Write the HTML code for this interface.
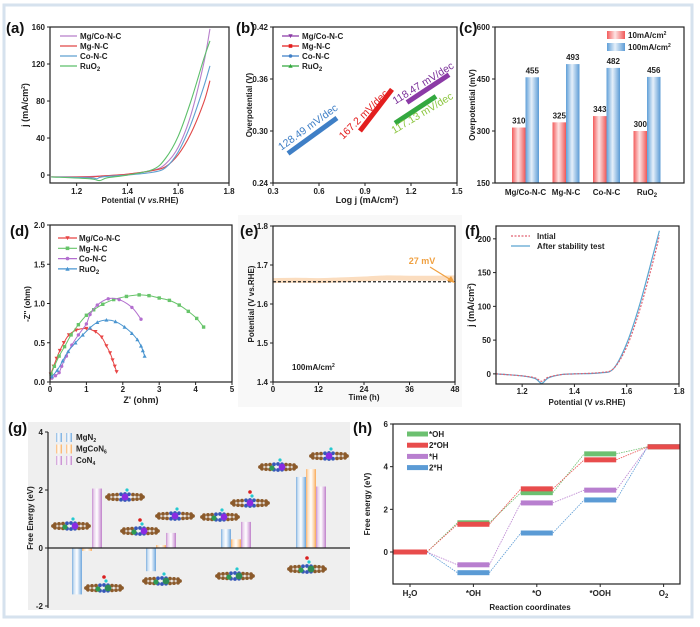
<!DOCTYPE html>
<html><head><meta charset="utf-8"><style>
html,body{margin:0;padding:0;background:#fff}
svg{display:block;font-family:"Liberation Sans",sans-serif;font-weight:bold}
</style></head><body>
<svg id="fig" width="700" height="627" viewBox="0 0 700 627">
<defs>
<linearGradient id="gRed" x1="0" x2="1"><stop offset="0" stop-color="#f35b5b"/><stop offset="0.45" stop-color="#fde4e4"/><stop offset="1" stop-color="#f05858"/></linearGradient>
<linearGradient id="gBlue" x1="0" x2="1"><stop offset="0" stop-color="#5f9fd8"/><stop offset="0.45" stop-color="#e6f0fa"/><stop offset="1" stop-color="#5b9bd5"/></linearGradient>
<linearGradient id="gB2" x1="0" x2="1"><stop offset="0" stop-color="#7fb0df"/><stop offset="0.2" stop-color="#cfe2f4"/><stop offset="0.5" stop-color="#fff"/><stop offset="0.8" stop-color="#a9cbec"/><stop offset="1" stop-color="#6fa6dc"/></linearGradient>
<linearGradient id="gO2" x1="0" x2="1"><stop offset="0" stop-color="#fbb36a"/><stop offset="0.2" stop-color="#fde2c4"/><stop offset="0.5" stop-color="#fff"/><stop offset="0.8" stop-color="#fcd3a6"/><stop offset="1" stop-color="#f9a856"/></linearGradient>
<linearGradient id="gP2" x1="0" x2="1"><stop offset="0" stop-color="#c88fd0"/><stop offset="0.2" stop-color="#ead4ee"/><stop offset="0.5" stop-color="#fff"/><stop offset="0.8" stop-color="#dcb6e2"/><stop offset="1" stop-color="#bf80c9"/></linearGradient>
</defs>
<rect x="4" y="5" width="688" height="612" fill="none" stroke="#d6e2ee" stroke-width="3"/>
<rect x="238" y="215" width="224" height="192" fill="#f8f8f8"/>
<rect x="28" y="422" width="322" height="188" fill="#efefef"/>
</svg>
<script>
// ---------- data ----------
// (a) LSV
const aX_mgco=[1.1,1.2,1.3,1.4,1.5,1.55,1.6,1.65,1.7,1.725];
const aY_mgco=[-2,-2,-1,1,5,12,30,65,120,158];
const aX_mg=[1.1,1.25,1.3,1.4,1.5,1.55,1.6,1.65,1.7,1.725];
const aY_mg=[-2,-2,-1,1,5,9,22,45,78,102];
const aX_co=[1.1,1.25,1.28,1.3,1.4,1.5,1.55,1.6,1.65,1.7,1.725];
const aY_co=[-2,-3,-4,-2,0,3,8,25,55,95,118];
const aX_ru=[1.1,1.25,1.29,1.32,1.4,1.5,1.55,1.6,1.65,1.7,1.725];
const aY_ru=[-2,-4,-6,-3,0,6,18,42,80,125,145];
const aXTicks=[1.2,1.4,1.6,1.8];
const aYTicks=[0,40,80,120,160];
// (b) Tafel
const bCo=[[0.398,0.274],[0.717,0.315]];
const bMg=[[0.867,0.300],[1.076,0.348]];
const bMgCo=[[1.174,0.333],[1.448,0.365]];
const bRu=[[1.096,0.309],[1.363,0.340]];
const bSlopes=["128.49 mV/dec","167.2 mV/dec","118.47 mV/dec","117.13 mV/dec"];
const bXTicks=[0.3,0.6,0.9,1.2,1.5];
const bYTicks=[0.24,0.30,0.36,0.42];
// (c) overpotential bars
const cCats=["Mg/Co-N-C","Mg-N-C","Co-N-C","RuO2"];
const c10=[310,325,343,300];
const c100=[455,493,482,456];
const cYTicks=[150,300,450,600];
// (d) Nyquist
const dMgCoX=[0.02,0.1,0.18,0.27,0.38,0.52,0.72,1.0,1.25,1.42,1.55,1.65,1.72,1.78,1.83];
const dMgCoY=[0.1,0.2,0.3,0.4,0.5,0.6,0.66,0.68,0.64,0.57,0.46,0.37,0.28,0.2,0.13];
const dMgX=[0.03,0.12,0.25,0.4,0.58,0.78,1.0,1.2,1.45,1.75,2.1,2.45,2.72,3.0,3.28,3.55,3.8,4.03,4.22];
const dMgY=[0.1,0.2,0.33,0.45,0.6,0.73,0.85,0.92,0.99,1.05,1.09,1.11,1.10,1.07,1.04,0.98,0.9,0.81,0.70];
const dCoX=[0.05,0.15,0.25,0.32,0.45,0.6,0.78,1.0,1.1,1.3,1.6,1.9,2.25,2.5];
const dCoY=[0.05,0.08,0.12,0.2,0.33,0.47,0.6,0.74,0.86,0.98,1.06,1.05,0.95,0.8];
const dRuX=[0.05,0.2,0.35,0.5,0.7,0.9,1.1,1.3,1.55,1.8,2.05,2.25,2.4,2.5,2.55,2.6];
const dRuY=[0.07,0.15,0.27,0.39,0.5,0.6,0.69,0.76,0.79,0.77,0.7,0.62,0.54,0.46,0.4,0.33];
const dXTicks=[0,1,2,3,4,5];
const dYTicks=[0,0.5,1.0,1.5,2.0];
// (e) stability
const eT=[0,6,12,18,24,30,36,42,48];
const eV=[1.66,1.661,1.66,1.662,1.664,1.667,1.666,1.666,1.667];
const eRef=1.657;
const eXTicks=[0,12,24,36,48];
const eYTicks=[1.4,1.5,1.6,1.7,1.8];
// (f) LSV before/after
const fX=[1.1,1.2,1.25,1.275,1.3,1.35,1.4,1.5,1.55,1.6,1.65,1.7,1.725];
const fInit=[0,-3,-6,-11,-5,-1,0,2,8,40,95,165,205];
const fAfter=[0,-3,-7,-14,-6,-1,0,1.5,8,45,103,175,212];
const fXTicks=[1.2,1.4,1.6,1.8];
const fYTicks=[0,50,100,150,200];
// (g) free energy bars
const gMgN2=[-1.6,-0.8,0.65,2.45];
const gMgCoN6=[-0.1,0.1,0.3,2.72];
const gCoN4=[2.05,0.52,0.9,2.12];
const gYTicks=[-2,0,2,4];
// (h) free-energy diagram
const hCats=["H2O","*OH","*O","*OOH","O2"];
const hOH=[0,1.37,2.78,4.6,4.93];
const h2OH=[0,1.3,2.96,4.32,4.93];
const hH=[0,-0.6,2.3,2.9,4.93];
const h2H=[0,-0.97,0.89,2.44,4.93];
const hYTicks=[0,2,4,6];

// ---------- helpers ----------
const svg=document.getElementById('fig');
const NS='http://www.w3.org/2000/svg';
function mk(tag,attrs,name,parent){
  const el=document.createElementNS(NS,tag);
  for(const k in attrs) el.setAttribute(k,attrs[k]);
  
  
  (parent||svg).appendChild(el);
  return el;
}
function txt(x,y,s,name,o){
  o=o||{};
  const el=mk('text',{x:x,y:y,'font-size':o.size||8,fill:o.fill||'#222','text-anchor':o.anchor||'middle','font-weight':o.weight||'bold'},name);
  if(o.rot!==undefined) el.setAttribute('transform','rotate('+o.rot+' '+x+' '+y+')');
  el.innerHTML=s;
  return el;
}
function lin(d0,d1,r0,r1){return v=>r0+(v-d0)*(r1-r0)/(d1-d0);}
function smooth(p){
  let d='M'+p[0][0]+','+p[0][1];
  for(let i=0;i<p.length-1;i++){
    const p0=p[i-1]||p[i],p1=p[i],p2=p[i+1],p3=p[i+2]||p2;
    const c1=[p1[0]+(p2[0]-p0[0])/6,p1[1]+(p2[1]-p0[1])/6];
    const c2=[p2[0]-(p3[0]-p1[0])/6,p2[1]-(p3[1]-p1[1])/6];
    d+=' C'+c1[0]+','+c1[1]+' '+c2[0]+','+c2[1]+' '+p2[0]+','+p2[1];
  }
  return d;
}
function frame(x0,y0,x1,y1,name){
  mk('rect',{x:x0,y:y0,width:x1-x0,height:y1-y0,fill:'none',stroke:'#222','stroke-width':1.2},name);
}
function xticks(ticks,sx,y,name,fmt,ly){
  ticks.forEach(t=>{
    mk('line',{x1:sx(t),x2:sx(t),y1:y,y2:y+3,stroke:'#222','stroke-width':1},name+'-tick');
    txt(sx(t),ly||y+11,fmt?fmt(t):t,name+'-label');
  });
}
function yticks(ticks,sy,x,name,fmt){
  ticks.forEach(t=>{
    mk('line',{x1:x-3,x2:x,y1:sy(t),y2:sy(t),stroke:'#222','stroke-width':1},name+'-tick');
    txt(x-5,sy(t)+3,fmt?fmt(t):t,name+'-label',{anchor:'end'});
  });
}
function panelLabel(x,y,s,name){txt(x,y,s,name,{size:15,anchor:'start',fill:'#111'});}
function marker(shape,x,y,c,r,name){
  r=r||2;
  if(shape==='sq') mk('rect',{x:x-r,y:y-r,width:2*r,height:2*r,fill:c},name);
  else if(shape==='ci') mk('circle',{cx:x,cy:y,r:r,fill:c},name);
  else if(shape==='dn') mk('polygon',{points:(x-r*1.2)+','+(y-r)+' '+(x+r*1.2)+','+(y-r)+' '+x+','+(y+r*1.2),fill:c},name);
  else mk('polygon',{points:(x-r*1.2)+','+(y+r)+' '+(x+r*1.2)+','+(y+r)+' '+x+','+(y-r*1.2),fill:c},name);
}
const SUB=s=>s.replace(/(\D)(\d)$/,'$1<tspan font-size="6" dy="2">$2</tspan>');

// ---------- (a) ----------
(function(){
  const sx=lin(1.095,1.8,50,229), sy=lin(-8.6,160,183,27);
  panelLabel(6,33,'(a)','panel-a-label');
  const series=[[aX_mgco,aY_mgco,'#b77fcb','mgco'],[aX_mg,aY_mg,'#e04848','mg'],[aX_co,aY_co,'#5fa0d0','co'],[aX_ru,aY_ru,'#5cbf6a','ru']];
  series.forEach(s=>{
    const pts=s[0].map((v,i)=>[sx(v),sy(s[1][i])]);
    mk('path',{d:smooth(pts),fill:'none',stroke:s[2],'stroke-width':1.1},'lsv-curve-'+s[3]);
  });
  frame(50,27,229,183,'panel-a-frame');
  xticks(aXTicks,sx,183,'a-x-tick');
  yticks(aYTicks,sy,50,'a-y-tick');
  txt(140,203,'Potential (V <tspan font-style="italic">vs.</tspan>RHE)','a-x-axis-title');
  txt(28,105,'j (mA/cm<tspan font-size="5" dy="-3">2</tspan><tspan dy="3">)</tspan>','a-y-axis-title',{rot:-90,size:9});
  const names=['Mg/Co-N-C','Mg-N-C','Co-N-C','RuO2'];
  names.forEach((n,i)=>{
    const y=36+10*i;
    mk('line',{x1:60,x2:77,y1:y,y2:y,stroke:series[i][2],'stroke-width':1.2},'a-legend-line');
    txt(80,y+3,SUB(n),'a-legend-entry',{anchor:'start'});
  });
})();

// ---------- (b) ----------
(function(){
  const sx=lin(0.3,1.5,273,457), sy=lin(0.24,0.42,183,27);
  panelLabel(236,33,'(b)','panel-b-label');
  const lines=[[bCo,'#3f7fc6','co'],[bMg,'#e31e1e','mg'],[bMgCo,'#8b3aa6','mgco'],[bRu,'#33a83f','ru']];
  lines.forEach(l=>{
    mk('line',{x1:sx(l[0][0][0]),y1:sy(l[0][0][1]),x2:sx(l[0][1][0]),y2:sy(l[0][1][1]),stroke:l[1],'stroke-width':5},'tafel-line-'+l[2]);
  });
  txt(310,130,bSlopes[0],'tafel-slope-co',{rot:-36,size:10.5,fill:'#3f7fc6',weight:'normal'});
  txt(366,117,bSlopes[1],'tafel-slope-mg',{rot:-45,size:10.5,fill:'#e31e1e',weight:'normal'});
  txt(425,86,bSlopes[2],'tafel-slope-mgco',{rot:-32,size:10.5,fill:'#7a2f99',weight:'normal'});
  txt(424,116,bSlopes[3],'tafel-slope-ru',{rot:-31,size:10.5,fill:'#8cc63f',weight:'normal'});
  frame(273,27,457,183,'panel-b-frame');
  xticks(bXTicks,sx,183,'b-x-tick',t=>t.toFixed(1));
  yticks(bYTicks,sy,273,'b-y-tick',t=>t.toFixed(2));
  txt(367,203,'Log j (mA/cm<tspan font-size="5" dy="-3">2</tspan><tspan dy="3">)</tspan>','b-x-axis-title',{size:9});
  txt(252,105,'Overpotential (V)','b-y-axis-title',{rot:-90});
  const names=['Mg/Co-N-C','Mg-N-C','Co-N-C','RuO2'];
  const cols=['#8b3aa6','#e31e1e','#3f7fc6','#33a83f'];
  const shp=['dn','sq','ci','up'];
  names.forEach((n,i)=>{
    const y=36+10*i;
    mk('line',{x1:282,x2:299,y1:y,y2:y,stroke:cols[i],'stroke-width':1.2},'b-legend-line');
    marker(shp[i],290.5,y,cols[i],1.8,'b-legend-marker');
    txt(302,y+3,SUB(n),'b-legend-entry',{anchor:'start'});
  });
})();

// ---------- (c) ----------
(function(){
  const sy=lin(150,600,183,27);
  panelLabel(459,33,'(c)','panel-c-label');
  const bw=13.5;
  cCats.forEach((c,i)=>{
    const x=512+40.5*i;
    mk('rect',{x:x,y:sy(c10[i]),width:bw,height:183-sy(c10[i]),fill:'url(#gRed)'},'bar-10ma-'+i);
    mk('rect',{x:x+bw,y:sy(c100[i]),width:bw,height:183-sy(c100[i]),fill:'url(#gBlue)'},'bar-100ma-'+i);
    txt(x+bw/2,sy(c10[i])-4,c10[i],'bar-10ma-value');
    txt(x+bw*1.5,sy(c100[i])-4,c100[i],'bar-100ma-value');
    txt(x+bw,195,SUB(c),'c-category-label');
  });
  frame(495,27,684,183,'panel-c-frame');
  yticks(cYTicks,sy,495,'c-y-tick');
  txt(475,105,'Overpotential (mV)','c-y-axis-title',{rot:-90});
  mk('rect',{x:607,y:31,width:18,height:8,fill:'url(#gRed)'},'c-legend-swatch-10');
  mk('rect',{x:607,y:43,width:18,height:8,fill:'url(#gBlue)'},'c-legend-swatch-100');
  txt(628,38,'10mA/cm<tspan font-size="5" dy="-3">2</tspan>','c-legend-entry',{anchor:'start'});
  txt(628,50,'100mA/cm<tspan font-size="5" dy="-3">2</tspan>','c-legend-entry',{anchor:'start'});
})();

// ---------- (d) ----------
(function(){
  const sx=lin(0,5,50,232), sy=lin(0,2,382,225);
  panelLabel(10,236,'(d)','panel-d-label');
  const series=[[dMgCoX,dMgCoY,'#e84545','dn','mgco'],[dMgX,dMgY,'#67c46a','sq','mg'],[dCoX,dCoY,'#b36fcf','ci','co'],[dRuX,dRuY,'#4a95d0','up','ru']];
  series.forEach(s=>{
    const pts=s[0].map((v,i)=>[sx(v),sy(s[1][i])]);
    mk('path',{d:smooth(pts),fill:'none',stroke:s[2],'stroke-width':1},'nyquist-curve-'+s[4]);
    pts.forEach(p=>marker(s[3],p[0],p[1],s[2],1.7,'nyquist-point-'+s[4]));
  });
  frame(50,225,232,382,'panel-d-frame');
  xticks(dXTicks,sx,382,'d-x-tick',null,392);
  yticks(dYTicks,sy,50,'d-y-tick',t=>t.toFixed(1));
  txt(141,403,"Z' (ohm)",'d-x-axis-title',{size:9});
  txt(30,304,"-Z'' (ohm)",'d-y-axis-title',{rot:-90});
  const names=['Mg/Co-N-C','Mg-N-C','Co-N-C','RuO2'];
  names.forEach((n,i)=>{
    const y=238+10.3*i;
    mk('line',{x1:58,x2:77,y1:y,y2:y,stroke:series[i][2],'stroke-width':1.2},'d-legend-line');
    marker(series[i][3],67.5,y,series[i][2],1.8,'d-legend-marker');
    txt(79,y+3,SUB(n),'d-legend-entry',{anchor:'start'});
  });
})();

// ---------- (e) ----------
(function(){
  const sx=lin(0,48,273,455), sy=lin(1.4,1.8,382,226);
  panelLabel(240,236,'(e)','panel-e-label');
  mk('rect',{x:273,y:226,width:182,height:156,fill:'#fff'},'panel-e-plot-area');
  const pts=eT.map((t,i)=>[sx(t),sy(eV[i])]);
  mk('path',{d:smooth(pts),fill:'none',stroke:'#fbd9b8','stroke-width':5,opacity:0.9},'stability-curve');
  mk('line',{x1:273,x2:455,y1:sy(eRef),y2:sy(eRef),stroke:'#222','stroke-width':1.3,'stroke-dasharray':'3,2'},'reference-dashed-line');
  frame(273,226,455,382,'panel-e-frame');
  xticks(eXTicks,sx,382,'e-x-tick',null,392);
  yticks(eYTicks,sy,273,'e-y-tick',t=>t.toFixed(1));
  txt(364,400,'Time (h)','e-x-axis-title');
  txt(254,304,'Potential (V vs.RHE)','e-y-axis-title',{rot:-90});
  txt(422,264,'27 mV','annotation-27mv',{fill:'#f0a040',size:9});
  mk('line',{x1:430,y1:267,x2:451,y2:280,stroke:'#f0a040','stroke-width':1.2},'annotation-arrow');
  mk('polygon',{points:'455,283 447,281 451,276',fill:'#f0a040'},'annotation-arrowhead');
  txt(292,370,'100mA/cm<tspan font-size="5" dy="-3">2</tspan>','current-density-note',{anchor:'start'});
})();

// ---------- (f) ----------
(function(){
  const sx=lin(1.1,1.8,496,679), sy=lin(-15,219,384,226);
  panelLabel(465,236,'(f)','panel-f-label');
  const pA=fX.map((v,i)=>[sx(v),sy(fAfter[i])]);
  const pI=fX.map((v,i)=>[sx(v),sy(fInit[i])]);
  mk('path',{d:smooth(pA),fill:'none',stroke:'#5aa5d0','stroke-width':1.2},'after-stability-curve');
  mk('path',{d:smooth(pI),fill:'none',stroke:'#e06070','stroke-width':1.2,'stroke-dasharray':'2,1.5'},'initial-curve');
  frame(496,226,679,384,'panel-f-frame');
  xticks(fXTicks,sx,384,'f-x-tick',t=>t.toFixed(1),394);
  yticks(fYTicks,sy,496,'f-y-tick');
  txt(587,405,'Potential (V <tspan font-style="italic">vs.</tspan>RHE)','f-x-axis-title');
  txt(474,305,'j (mA/cm<tspan font-size="5" dy="-3">2</tspan><tspan dy="3">)</tspan>','f-y-axis-title',{rot:-90,size:9});
  mk('line',{x1:511,x2:530,y1:236,y2:236,stroke:'#e06070','stroke-width':1.2,'stroke-dasharray':'2,1.5'},'f-legend-line');
  mk('line',{x1:511,x2:530,y1:246,y2:246,stroke:'#5aa5d0','stroke-width':1.2},'f-legend-line');
  txt(537,239,'Intial','f-legend-entry',{anchor:'start'});
  txt(537,249,'After stability test','f-legend-entry',{anchor:'start'});
})();

// ---------- (g) ----------
(function(){
  const sy=lin(0,2,548,490);
  panelLabel(8,433,'(g)','panel-g-label');
  const starts=[72,146,221,296];
  const sets=[[gMgN2,'url(#gB2)','mgn2'],[gMgCoN6,'url(#gO2)','mgcon6'],[gCoN4,'url(#gP2)','con4']];
  starts.forEach((x0,i)=>{
    sets.forEach((s,j)=>{
      const v=s[0][i], y=Math.min(sy(v),sy(0)), h=Math.abs(sy(v)-sy(0));
      mk('rect',{x:x0+10*j,y:y,width:10,height:h,fill:s[1]},'bar-'+s[2]+'-'+i);
    });
  });
  mk('line',{x1:48,x2:350,y1:sy(0),y2:sy(0),stroke:'#222','stroke-width':1.2},'g-zero-line');
  mk('line',{x1:48,x2:48,y1:432,y2:608,stroke:'#222','stroke-width':1.2},'g-y-axis');
  yticks(gYTicks,sy,48,'g-y-tick');
  txt(33,518,'Free Energy (eV)','g-y-axis-title',{rot:-90});
  const lg=[['url(#gB2)','MgN<tspan font-size="5" dy="2">2</tspan>'],['url(#gO2)','MgCoN<tspan font-size="5" dy="2">6</tspan>'],['url(#gP2)','CoN<tspan font-size="5" dy="2">4</tspan>']];
  lg.forEach((l,i)=>{
    const y=433+11.5*i;
    mk('rect',{x:56,y:y,width:6,height:9,fill:l[0]},'g-legend-swatch');
    mk('rect',{x:66,y:y,width:6,height:9,fill:l[0]},'g-legend-swatch');
    txt(76,y+7,l[1],'g-legend-entry',{anchor:'start'});
  });
  // molecule structure illustrations (decorative)
  const mols=[[71,526,'#8a2be2',1],[125,497,'#8a2be2',0],[140,531,'#8a2be2',1],[175,516,'#8a2be2',0],[220,517,'#8a2be2',1],[250,503,'#8a2be2',0],[278,467,'#8a2be2',1],[329,456,'#8a2be2',0],[104,588,'#2e8b57',1],[162,581,'#2e8b57',1],[235,576,'#2e8b57',1],[307,569,'#2e8b57',1]];
  mols.forEach((m,k)=>{
    const g=mk('g',{},'molecule-structure-'+k);
    const cx=m[0],cy=m[1];
    for(let i=-4;i<=4;i++){
      const dx=i*4;
      const col=Math.abs(i)<=1?'#3556b8':'#8b5a2b';
      mk('circle',{cx:cx+dx,cy:cy-3+Math.abs(i)*0.3,r:1.9,fill:col},'molecule-atom',g);
      mk('circle',{cx:cx+dx,cy:cy+3-Math.abs(i)*0.3,r:1.9,fill:col},'molecule-atom',g);
    }
    mk('circle',{cx:cx-18,cy:cy,r:1.9,fill:'#8b5a2b'},'molecule-atom',g);
    mk('circle',{cx:cx+18,cy:cy,r:1.9,fill:'#8b5a2b'},'molecule-atom',g);
    mk('circle',{cx:cx+(m[3]?4:0),cy:cy,r:3.4,fill:m[2]},'molecule-metal',g);
    if(m[3]) mk('circle',{cx:cx-6,cy:cy+1,r:2.6,fill:'#2e9b55'},'molecule-metal',g);
    mk('circle',{cx:cx+2,cy:cy-7,r:1.6,fill:'#25c9d0'},'molecule-h-atom',g);
    if(k%3===2) mk('circle',{cx:cx,cy:cy-11,r:1.8,fill:'#d91f1f'},'molecule-o-atom',g);
  });
})();

// ---------- (h) ----------
(function(){
  const sy=lin(-1.5,6,584,424);
  const cx=i=>410+63.4*i;
  panelLabel(353,433,'(h)','panel-h-label');
  const series=[[h2H,'#5b9bd5','2h'],[hH,'#b87fcf','h'],[hOH,'#6cc070','oh'],[h2OH,'#e84c4c','2oh']];
  const bw=i=>i===0?34:32;
  series.forEach(s=>{
    for(let i=0;i<hCats.length-1;i++){
      mk('line',{x1:cx(i)+bw(i)/2,y1:sy(s[0][i]),x2:cx(i+1)-bw(i+1)/2,y2:sy(s[0][i+1]),stroke:s[1],'stroke-width':0.8,'stroke-dasharray':'1.5,1'},'h-connector-'+s[2]);
    }
  });
  series.forEach(s=>{
    s[0].forEach((v,i)=>{
      mk('rect',{x:cx(i)-bw(i)/2,y:sy(v)-2.5,width:bw(i),height:5,fill:s[1]},'h-level-'+s[2]+'-'+i);
    });
  });
  mk('rect',{x:393,y:424,width:287,height:160,fill:'none',stroke:'#222','stroke-width':1.2},'panel-h-frame');
  yticks(hYTicks,sy,393,'h-y-tick');
  hCats.forEach((c,i)=>{
    mk('line',{x1:cx(i),x2:cx(i),y1:584,y2:587,stroke:'#222','stroke-width':1},'h-x-tick');
    const lab=c==='H2O'?'H<tspan font-size="5" dy="2">2</tspan><tspan dy="-2">O</tspan>':SUB(c);
    txt(cx(i),596,lab,'h-category-label');
  });
  txt(530,610,'Reaction coordinates','h-x-axis-title');
  txt(370,504,'Free energy (eV)','h-y-axis-title',{rot:-90});
  const lg=[['#6cc070','*OH'],['#e84c4c','2*OH'],['#b87fcf','*H'],['#5b9bd5','2*H']];
  lg.forEach((l,i)=>{
    const y=434+11.2*i;
    mk('rect',{x:407,y:y-2.5,width:21,height:5,fill:l[0]},'h-legend-swatch');
    txt(429,y+3,l[1],'h-legend-entry',{anchor:'start'});
  });
})();
</script>
</body></html>
